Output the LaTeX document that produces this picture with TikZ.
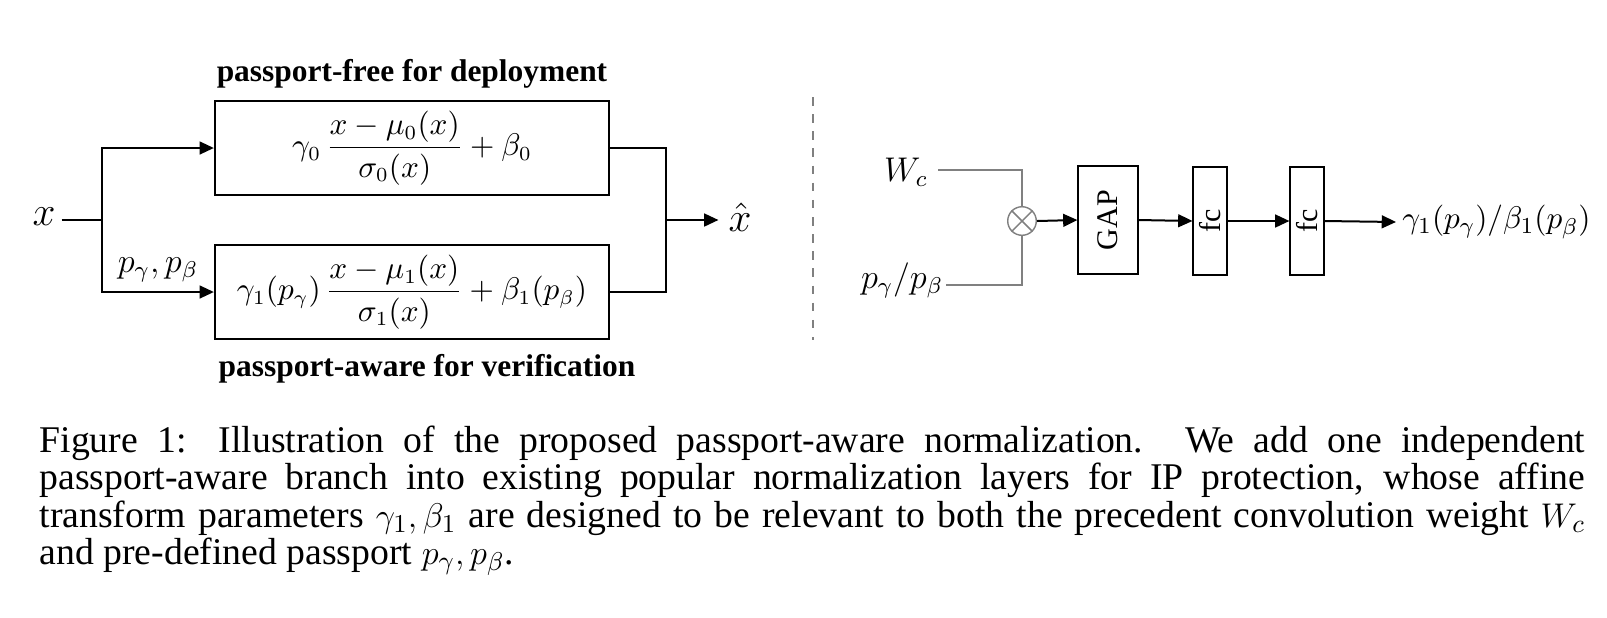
\documentclass[tikz,border=0pt]{standalone}
\usepackage{fontspec}
\setmainfont{Liberation Serif}
\usepackage{amsmath}
\usetikzlibrary{calc}
\usetikzlibrary{positioning}
\usetikzlibrary{arrows.meta}

\tikzset{
  normbox/.style={draw,line width=0.7pt,minimum width=138pt,minimum height=33pt,inner sep=0pt,font=\fontsize{10.5}{12}\selectfont},
  headline/.style={font=\fontsize{11}{12}\selectfont\bfseries},
  layerbox/.style={draw,line width=0.7pt,rotate=90,inner sep=0pt,minimum width=38pt,font=\fontsize{10.5}{12}\selectfont},
  feed/.style={line width=0.7pt,-{Triangle[length=5pt,width=4.5pt]}},
  wire/.style={gray,line width=0.5pt},
  mathlabel/.style={font=\fontsize{12}{13}\selectfont},
}

\begin{document}
\begin{tikzpicture}[x=0.35pt,y=-0.35pt]
        \useasboundingbox (0,0) rectangle (1607,617);
        % left: two normalization branches
        \node[headline] (freetitle) at (412,74) {passport-free for deployment};
        \node[normbox] (freebox) at (412,148)
            {$\displaystyle \gamma_0\,\frac{x-\mu_0(x)}{\sigma_0(x)}+\beta_0$};
        \node[normbox] (awarebox) at (412,292)
            {$\displaystyle \gamma_1(p_\gamma)\,\frac{x-\mu_1(x)}{\sigma_1(x)}+\beta_1(p_\beta)$};
        \node[headline] (awaretitle) at (427,369) {passport-aware for verification};
        \node[font=\fontsize{15}{16}\selectfont,inner sep=2pt] (xin) at (44,217) {$x$};
        \node[font=\fontsize{15}{16}\selectfont] (xout) at (740,217) {$\hat{x}$};
        \node[mathlabel] (passlabel) at (158,270) {$p_\gamma, p_\beta$};
        \coordinate (split) at (102,220);
        \coordinate (merge) at (666,220);

        \draw[line width=0.7pt] (xin.east |- split) -- (split);
        \draw[feed] (split) |- (freebox.west);
        \draw[feed] (split) |- (awarebox.west);
        \draw[line width=0.7pt] (freebox.east) -| (merge);
        \draw[line width=0.7pt] (awarebox.east) -| (merge);
        \draw[feed] (merge) -- (xout.west |- merge);

        \draw[gray,dashed,line width=0.5pt] (813,97) -- (813,340);

        % right: passport-aware affine parameters
        \node[mathlabel] (weight) at (906,172) {$W_c$};
        \node[mathlabel,inner sep=1pt] (passport) at (902,280) {$p_\gamma/p_\beta$};
        \node[draw=gray,line width=0.5pt,circle,minimum size=10pt,inner sep=0pt] (mult) at (1022,221) {};
        \draw[wire] (mult.north west) -- (mult.south east) (mult.north east) -- (mult.south west);
        \node[layerbox,minimum height=20.7pt] (gap) at (1108,220) {GAP};
        \node[layerbox,minimum height=11.6pt] (fcone) at (1210,221) {fc};
        \node[layerbox,minimum height=11.6pt] (fctwo) at (1307,221) {fc};
        \node[font=\fontsize{11}{13}\selectfont,anchor=west,inner sep=2pt] (affine) at (1396,222) {$\gamma_1(p_\gamma)/\beta_1(p_\beta)$};

        \draw[wire] (938,170) -| (mult.north);
        \draw[wire] (passport.east |- 0,285) -| (mult.south);
        \draw[feed] (mult.east) -- (gap.north);
        \draw[feed] (gap.south) -- (fcone.north);
        \draw[feed] (fcone.south) -- (fctwo.north);
        \draw[feed] (fctwo.south) -- (affine.west);

        % caption
        \node[anchor=north west,inner sep=0pt,text width=541pt,align=justify,
              font=\fontsize{13.2}{12}\selectfont] (caption) at (39,425)
            {\hyphenpenalty=10000 \lineskiplimit=-20pt Figure 1: Illustration of the proposed passport-aware normalization. We add one independent\linebreak
             passport-aware branch into existing popular normalization layers for IP protection, whose affine\linebreak
             transform parameters $\gamma_1, \beta_1$ are designed to be relevant to both the precedent convolution weight $W_c$\linebreak
             and pre-defined passport $p_\gamma, p_\beta$.};
    \end{tikzpicture}
\end{document}
